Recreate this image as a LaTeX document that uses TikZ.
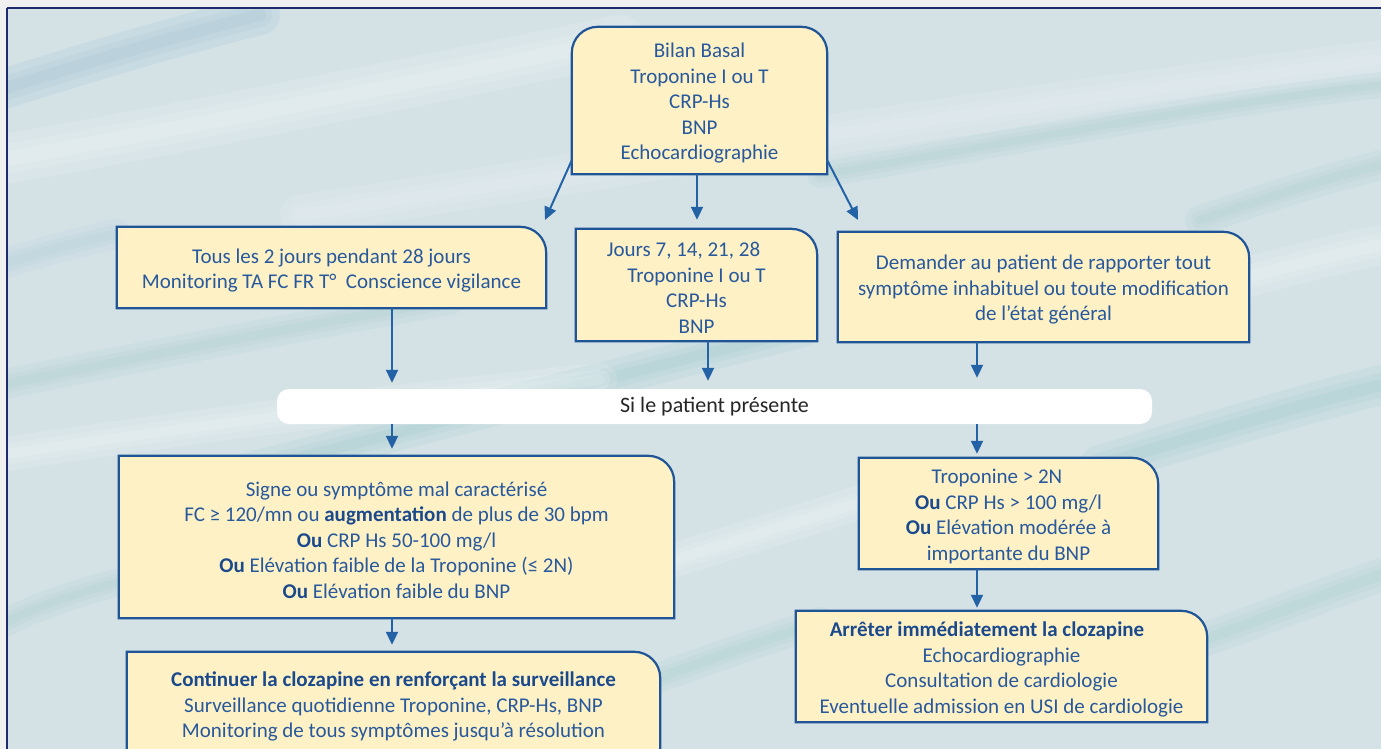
\documentclass[tikz,border=0pt]{standalone}
\usepackage{fontspec}
\setmainfont{Carlito}
\usetikzlibrary{arrows.meta,calc}
\pgfdeclarelayer{back}
\pgfdeclarelayer{shapes}
\pgfsetlayers{back,shapes,main}
\definecolor{outside}{HTML}{F0F0F0}
\definecolor{framec}{HTML}{1E2A6E}
\definecolor{bgc}{HTML}{D4E2E6}
\definecolor{streakteal}{HTML}{9CC9C9}
\definecolor{streakblue}{HTML}{B0CCDA}
\definecolor{boxfill}{HTML}{FEF1C6}
\definecolor{boxline}{HTML}{1F5596}
\definecolor{txt}{HTML}{27599C}
\definecolor{boldc}{HTML}{1B4A8C}
\definecolor{arrc}{HTML}{2462A6}
\newcommand\B[1]{{\bfseries\color{boldc}#1}}
\newcommand\boxTR[2]{%
  \begin{pgfonlayer}{shapes}
  \draw[boxstroke] (#1.south west) -- (#1.north west) -- ([xshift=-#2]#1.north east)
     arc[start angle=90,end angle=0,radius=#2] -- (#1.south east) -- cycle;
  \end{pgfonlayer}}
% soft streak: colour, opacity, width, path
\newcommand\softstreak[4]{%
  \draw[#1,opacity=#2,line cap=round,line width=#3pt] #4;
  \draw[#1,opacity=#2,line cap=round,line width=0.6*#3pt] #4;
  \draw[#1,opacity=#2,line cap=round,line width=0.3*#3pt] #4;}
\tikzset{
  boxstroke/.style={draw=boxline,fill=boxfill,line width=2.2pt},
  frame/.style={inner sep=0pt},
  ftext/.style={inner sep=0pt,align=center,text=txt,font=\fontsize{21pt}{25.5pt}\selectfont,yshift=-3pt},
  arr/.style={draw=arrc,line width=2pt,-{Triangle[length=13pt,width=12pt]}},
}
\begin{document}
\begin{tikzpicture}[x=1pt,y=-1pt]
\useasboundingbox (0,0) rectangle (1381,749);
\clip (0,0) rectangle (1381,749);
% background
\begin{pgfonlayer}{back}
\fill[outside] (0,0) rectangle (1381,749);
\fill[bgc] (7,8) rectangle (1395,760);
\begin{scope}
\clip (7,8) rectangle (1395,760);
\softstreak{streakblue}{0.3}{40}{(0,90) .. controls (80,65) and (160,40) .. (260,15)}
\softstreak{white}{0.12}{50}{(0,160) .. controls (200,125) and (400,85) .. (620,40)}
\softstreak{white}{0.1}{40}{(300,215) .. controls (600,170) and (900,120) .. (1381,60)}
\softstreak{streakteal}{0.12}{26}{(820,175) .. controls (1000,145) and (1200,105) .. (1381,85)}
\softstreak{streakteal}{0.12}{30}{(0,385) .. controls (150,355) and (280,330) .. (450,300)}
\softstreak{streakteal}{0.16}{36}{(250,470) .. controls (450,420) and (600,380) .. (800,330)}
\softstreak{white}{0.12}{34}{(0,455) .. controls (200,425) and (400,400) .. (600,380)}
\softstreak{streakteal}{0.16}{40}{(1100,465) .. controls (1200,435) and (1300,405) .. (1381,385)}
\softstreak{streakteal}{0.14}{34}{(1160,655) .. controls (1250,625) and (1320,595) .. (1381,575)}
\softstreak{white}{0.12}{40}{(1150,305) .. controls (1250,275) and (1330,255) .. (1381,245)}
\softstreak{streakteal}{0.12}{28}{(0,625) .. controls (40,605) and (80,592) .. (120,582)}
\softstreak{streakteal}{0.14}{30}{(640,685) .. controls (700,662) and (760,642) .. (820,622)}
\softstreak{white}{0.12}{34}{(660,565) .. controls (720,545) and (800,522) .. (860,502)}
\softstreak{streakblue}{0.16}{30}{(0,265) .. controls (40,252) and (80,242) .. (116,234)}
\softstreak{streakteal}{0.12}{30}{(1200,220) .. controls (1260,200) and (1320,180) .. (1381,165)}
\end{scope}
\draw[framec,line width=1.3pt] (7,8) -- (1395,8);
\draw[framec,line width=1.3pt] (7,8) -- (7,760);
\end{pgfonlayer}

% box frames (named, empty)
\node[frame,minimum width=255pt,minimum height=147pt] (A) at (699.5,100.5) {};
\node[frame,minimum width=429pt,minimum height=81pt] (Bx) at (331.5,267.5) {};
\node[frame,minimum width=241pt,minimum height=112pt] (C) at (696.5,285) {};
\node[frame,minimum width=411pt,minimum height=110pt] (D) at (1043.5,287) {};
\node[frame,minimum width=555pt,minimum height=162pt] (E) at (396.5,537) {};
\node[frame,minimum width=299pt,minimum height=111pt] (F) at (1008.5,513.5) {};
\node[frame,minimum width=411pt,minimum height=111pt] (G) at (1001.5,666.5) {};
\node[frame,minimum width=533pt,minimum height=103pt] (H) at (393.5,703.5) {};
\node[fill=white,rounded corners=12pt,minimum width=875pt,minimum height=35pt,inner sep=0pt,
  text=black!85,font=\fontsize{22pt}{25pt}\selectfont] (bar) at (714.5,406.5) {Si le patient présente};

% texts
\node[ftext] (At) at (A.center)
  {Bilan Basal\\Troponine I ou T\\CRP-Hs\\BNP\\Echocardiographie};
\node[ftext] (Bt) at (Bx.center)
  {Tous les 2 jours pendant 28 jours\\Monitoring TA FC FR T°\ \ Conscience vigilance};
\node[ftext] (Ct) at (C.center)
  {Jours 7, 14, 21, 28\rule{26pt}{0pt}\\Troponine I ou T\\CRP-Hs\\BNP};
\node[ftext] (Dt) at (D.center)
  {Demander au patient de rapporter tout\\symptôme inhabituel ou toute modification\\de l’état général};
\node[ftext] (Et) at (E.center)
  {Signe ou symptôme mal caractérisé\\FC ≥ 120/mn ou \B{augmentation} de plus de 30 bpm\\\B{Ou} CRP Hs 50-100 mg/l\\\B{Ou} Elévation faible de la Troponine (≤ 2N)\\\B{Ou} Elévation faible du BNP};
\node[ftext] (Ft) at (F.center)
  {Troponine > 2N\rule{23pt}{0pt}\\\B{Ou} CRP Hs > 100 mg/l\\\B{Ou} Elévation modérée à\\importante du BNP};
\node[ftext] (Gt) at (G.center)
  {\B{Arrêter immédiatement la clozapine}\rule{29pt}{0pt}\\Echocardiographie\\Consultation de cardiologie\\Eventuelle admission en USI de cardiologie};
\node[ftext] (Ht) at (H.center)
  {\B{Continuer la clozapine en renforçant la surveillance}\\Surveillance quotidienne Troponine, CRP-Hs, BNP\\Monitoring de tous symptômes jusqu’à résolution};

% box outlines
\begin{pgfonlayer}{shapes}
\draw[boxstroke] (A.south west) -- ([yshift=-26pt]A.north west)
   arc[start angle=180,end angle=90,radius=26pt] -- ([xshift=-26pt]A.north east)
   arc[start angle=90,end angle=0,radius=26pt] -- (A.south east) -- cycle;
\end{pgfonlayer}
\boxTR{Bx}{26pt}
\boxTR{C}{26pt}
\boxTR{D}{26pt}
\boxTR{E}{26pt}
\boxTR{F}{26pt}
\boxTR{G}{26pt}
\boxTR{H}{26pt}

% connectors
\coordinate (tipL) at (545,220);
\coordinate (tipR) at (858,220);
\draw[arr] ($(A.south west)+(0,-14)$) -- (tipL);
\draw[arr] ($(A.south east)+(0,-14)$) -- (tipR);
\draw[arr,shorten >=9pt] (697,0 |- A.south) -- (697,0 |- C.north);
\draw[arr,shorten >=6pt] (392,0 |- Bx.south) -- (392,0 |- bar.north);
\draw[arr,shorten >=8pt] (708,0 |- C.south) -- (708,0 |- bar.north);
\draw[arr,shorten >=11pt] (977,0 |- D.south) -- (977,0 |- bar.north);
\draw[arr,shorten >=7pt] (392,0 |- bar.south) -- (392,0 |- E.north);
\draw[arr,shorten >=4pt] (977,0 |- bar.south) -- (977,0 |- F.north);
\draw[arr,shorten >=7pt] (392,0 |- E.south) -- (392,0 |- H.north);
\draw[arr,shorten >=3pt] (977,0 |- F.south) -- (977,0 |- G.north);
\end{tikzpicture}
\end{document}
